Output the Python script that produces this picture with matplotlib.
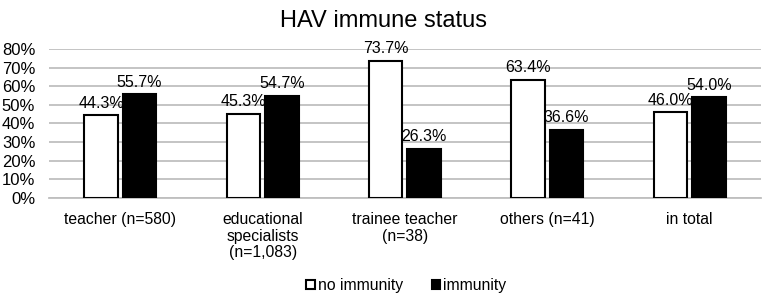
import matplotlib
matplotlib.use("Agg")
import matplotlib.pyplot as plt
import numpy as np

plt.rcParams['font.family'] = ['Liberation Sans', 'DejaVu Sans']

# data
categories = ["teacher (n=580)", "educational\nspecialists\n(n=1,083)",
              "trainee teacher\n(n=38)", "others (n=41)", "in total"]
no_immunity = [44.3, 45.3, 73.7, 63.4, 46.0]
immunity = [55.7, 54.7, 26.3, 36.6, 54.0]
yticks = [0, 10, 20, 30, 40, 50, 60, 70, 80]

fig = plt.figure(figsize=(7.67, 2.94), dpi=100)
ax = fig.add_axes([0.064, 0.327, 0.928, 0.506])

x = np.arange(len(categories))
w = 0.235
off = 0.135
b1 = ax.bar(x - off, no_immunity, w, color='white', edgecolor='black',
            linewidth=1.5, label='no immunity', zorder=3)
b2 = ax.bar(x + off, immunity, w, color='black', edgecolor='black',
            linewidth=1.5, label='immunity', zorder=3)

for bars, vals in ((b1, no_immunity), (b2, immunity)):
    for r, v in zip(bars, vals):
        ax.text(r.get_x() + r.get_width() / 2, v + 2.5, f"{v:.1f}%",
                ha='center', va='bottom', fontsize=11.5)

ax.set_xlim(-0.5, len(categories) - 0.5)
ax.set_ylim(0, 80)
ax.set_yticks(yticks)
ax.set_yticklabels([f"{t}%" for t in yticks], fontsize=12)
ax.set_xticks(x)
ax.set_xticklabels(categories, fontsize=11.3, va='top', linespacing=1.15)
ax.tick_params(axis='x', length=0, pad=10)
ax.tick_params(axis='y', length=0, pad=10)
ax.yaxis.grid(True, color='#bfbfbf', linewidth=1.3, zorder=0)
ax.set_axisbelow(True)
for s in ['top', 'right', 'left']:
    ax.spines[s].set_visible(False)
ax.spines['bottom'].set_color('#bfbfbf')
ax.spines['bottom'].set_linewidth(1.3)

fig.suptitle("HAV immune status", fontsize=17, y=0.965)

fig.legend(handles=[b1, b2], loc='lower center', bbox_to_anchor=(0.53, -0.045),
           ncol=2, frameon=False, fontsize=11.3, handlelength=0.55,
           handleheight=0.55, handletextpad=0.2, columnspacing=1.8)

fig.savefig("out.png", dpi=100)
